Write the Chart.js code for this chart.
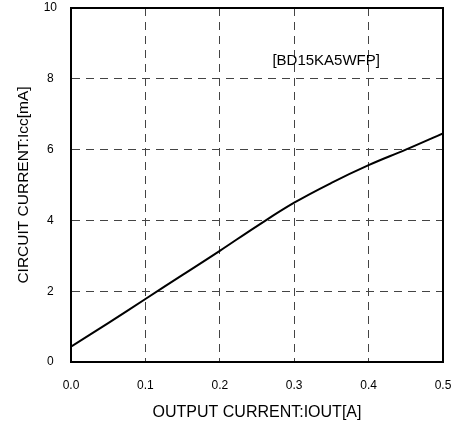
<!DOCTYPE html>
<html>
<head>
<meta charset="utf-8">
<script src="https://cdn.jsdelivr.net/npm/chart.js@4"></script>
<style>
  html, body { margin: 0; padding: 0; background: #fff; }
  #wrap { width: 469px; height: 426px; }
</style>
</head>
<body>
<div id="wrap"><canvas id="chart"></canvas></div>
<script>
// output current [A]
const iout = [0, 0.05, 0.1, 0.15, 0.2, 0.25, 0.3, 0.35, 0.4, 0.45, 0.5];
// circuit current [mA]
const icc = [0.43, 1.1, 1.78, 2.46, 3.14, 3.84, 4.5, 5.06, 5.56, 6.0, 6.46];

const partName = "[BD15KA5WFP]";
const xTitle = "OUTPUT CURRENT:IOUT[A]";
const yTitle = "CIRCUIT CURRENT:Icc[mA]";

const fontFamily = "'Liberation Sans', Arial, sans-serif";

// frame round the plot + part label
const framePlugin = {
    id: "frame",
    afterDraw(chart) {
        const ctx = chart.ctx;
        const a = chart.chartArea;
        ctx.save();
        ctx.strokeStyle = "#000";
        ctx.lineWidth = 2;
        ctx.strokeRect(a.left, a.top, a.right - a.left, a.bottom - a.top);

        const x = chart.scales.x.getPixelForValue(0.343);
        const y = chart.scales.y.getPixelForValue(8.5);
        ctx.fillStyle = "#000";
        ctx.font = "15px " + fontFamily;
        ctx.textAlign = "center";
        ctx.textBaseline = "middle";
        ctx.fillText(partName, x, y);
        ctx.restore();
    },
};

const points = iout.map((v, i) => ({ x: v, y: icc[i] }));

new Chart(document.getElementById("chart"), {
    type: "line",
    data: {
        datasets: [
            {
                data: points,
                borderColor: "#000",
                borderWidth: 2,
                pointRadius: 0,
                tension: 0.4,
            },
        ],
    },
    options: {
        responsive: true,
        maintainAspectRatio: false,
        animation: false,
        layout: { padding: { top: 8, right: 26, left: 0, bottom: 0 } },
        plugins: {
            legend: { display: false },
            tooltip: { enabled: false },
        },
        scales: {
            x: {
                type: "linear",
                min: 0,
                max: 0.5,
                ticks: {
                    stepSize: 0.1,
                    color: "#000",
                    padding: 16,
                    font: { size: 12, family: fontFamily },
                    callback: (v) => v.toFixed(1),
                },
                grid: {
                    color: "#444",
                    drawTicks: false,
                },
                border: { display: true, color: "#000", width: 2, dash: [8, 6] },
                title: {
                    display: true,
                    text: xTitle,
                    color: "#000",
                    font: { size: 16, family: fontFamily },
                    padding: { top: 10 },
                },
                afterFit(scale) {
                    scale.height = 64;
                    scale.paddingLeft = 0;
                    scale.paddingRight = 0;
                },
            },
            y: {
                min: 0,
                max: 10,
                ticks: {
                    stepSize: 2,
                    color: "#000",
                    padding: 14,
                    crossAlign: "center",
                    font: { size: 12, family: fontFamily },
                },
                grid: {
                    color: "#444",
                    drawTicks: false,
                },
                border: { display: true, color: "#000", width: 2, dash: [8, 6] },
                title: {
                    display: true,
                    text: yTitle,
                    color: "#000",
                    font: { size: 15.5, family: fontFamily },
                    padding: { top: 14 },
                },
                afterFit(scale) {
                    scale.width = 71;
                    scale.paddingTop = 0;
                    scale.paddingBottom = 0;
                },
            },
        },
    },
    plugins: [framePlugin],
});
</script>
</body>
</html>
